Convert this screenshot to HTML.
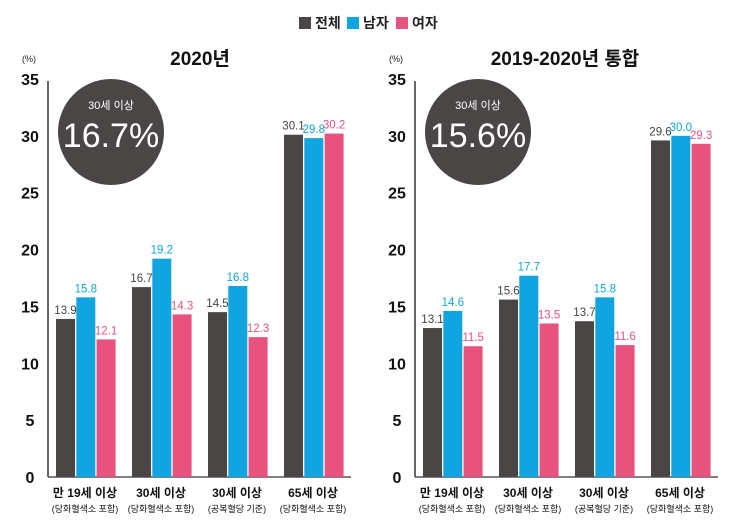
<!DOCTYPE html>
<html><head><meta charset="utf-8"><style>
body{margin:0;background:#fff;}
svg{display:block;font-family:"Liberation Sans","Noto Sans CJK KR",sans-serif;}
</style></head><body>
<svg id="c" width="733" height="530">
<g>
<rect x="299" y="17" width="12" height="12" fill="#4a4646"/><text x="315" y="28" font-size="14" font-weight="bold" fill="#222">전체</text>
<rect x="347" y="17" width="12" height="12" fill="#10a5e0"/><text x="363" y="28" font-size="14" font-weight="bold" fill="#222">남자</text>
<rect x="396" y="17" width="12" height="12" fill="#e8527f"/><text x="412" y="28" font-size="14" font-weight="bold" fill="#222">여자</text>
</g>
</svg>
<script>
const categories=["만 19세 이상","30세 이상","30세 이상","65세 이상"];
const subLabels=["(당화혈색소 포함)","(당화혈색소 포함)","(공복혈당 기준)","(당화혈색소 포함)"];
const yTicks=[0,5,10,15,20,25,30,35];
const left_total=[13.9,16.7,14.5,30.1];
const left_male=[15.8,19.2,16.8,29.8];
const left_female=[12.1,14.3,12.3,30.2];
const right_total=[13.1,15.6,13.7,29.6];
const right_male=[14.6,17.7,15.8,30.0];
const right_female=[11.5,13.5,11.6,29.3];
const titles=["2020년","2019-2020년 통합"];
const badgeValues=["16.7%","15.6%"];
const colors=["#4a4646","#10a5e0","#e8527f"];
const labelColors=["#444","#10a5e0","#e8527f"];
const svg=document.getElementById('c');
const NS="http://www.w3.org/2000/svg";
function mk(t,a,p){const e=document.createElementNS(NS,t);for(const k in a)e.setAttribute(k,a[k]);(p||svg).appendChild(e);return e;}
const y0=477,y35=79;
function yS(v){return y0-(v/35)*(y0-y35);}
function panel(ax,series,title,badge,idx){
  const g=mk('g',{});
  
  
  const t=mk('text',{x:ax+(idx?150:152),y:65,'font-size':19,'font-weight':'bold','text-anchor':'middle',fill:'#111'},g);t.textContent=title;
  
  const u=mk('text',{x:ax-19,y:62,'font-size':9,'text-anchor':'middle',fill:'#222'},g);u.textContent='(%)';
  
  yTicks.forEach(v=>{const tt=mk('text',{x:ax-18,y:yS(v)+6,'font-size':16,'font-weight':'bold','text-anchor':'middle',fill:'#111'},g);tt.textContent=v;
    });
  const ya=mk('line',{x1:ax,y1:y35+2,x2:ax,y2:y0,stroke:'#333','stroke-width':1.5},g);
  
  const xa=mk('line',{x1:ax,y1:y0,x2:ax+303,y2:y0,stroke:'#555','stroke-width':1.5},g);
  
  categories.forEach((c,i)=>{
    const gx=ax+8+i*76;
    series.forEach((s,j)=>{
      const x=gx+j*20.3,y=yS(s[i]);
      const r=mk('rect',{x:x,y:y,width:19,height:y0-y,fill:colors[j]},g);
      
      
      const l=mk('text',{x:x+9.5,y:y-5,'font-size':11.5,'text-anchor':'middle',fill:labelColors[j]},g);l.textContent=s[i].toFixed(1);
      
    });
    const cx=gx+29;
    const a=mk('text',{x:cx,y:497,'font-size':12,'font-weight':'bold','text-anchor':'middle',fill:'#111'},g);a.textContent=c;
    
    const b=mk('text',{x:cx,y:512,'font-size':9,'text-anchor':'middle',fill:'#111'},g);b.textContent=subLabels[i];
    
  });
  const bc=mk('g',{},g);
  
  const bx=ax+63;
  mk('circle',{cx:bx,cy:132,r:53,fill:'#4a4646'},bc);
  const s1=mk('text',{x:bx,y:109,'font-size':11,'text-anchor':'middle',fill:'#fff'},bc);s1.textContent='30세 이상';
  const s2=mk('text',{x:bx,y:147,'font-size':34,'text-anchor':'middle',fill:'#fff'},bc);s2.textContent=badge;
}
panel(48,[left_total,left_male,left_female],titles[0],badgeValues[0],0);
panel(415,[right_total,right_male,right_female],titles[1],badgeValues[1],1);
</script>
</body></html>
